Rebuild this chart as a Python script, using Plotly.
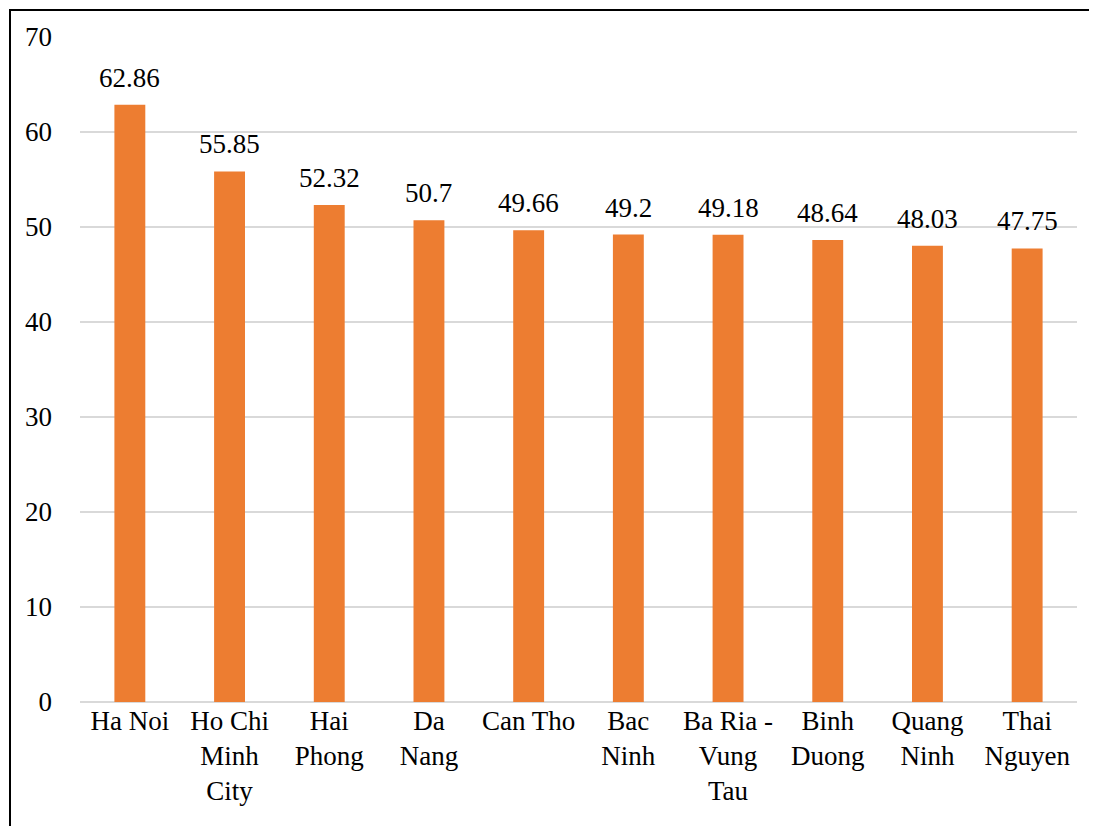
import plotly.graph_objects as go

categories = ["Ha Noi", "Ho Chi<br>Minh<br>City", "Hai<br>Phong", "Da<br>Nang", "Can Tho",
              "Bac<br>Ninh", "Ba Ria -<br>Vung<br>Tau", "Binh<br>Duong", "Quang<br>Ninh", "Thai<br>Nguyen"]
values = [62.86, 55.85, 52.32, 50.7, 49.66, 49.2, 49.18, 48.64, 48.03, 47.75]
value_labels = ["62.86", "55.85", "52.32", "50.7", "49.66", "49.2", "49.18", "48.64", "48.03", "47.75"]

W, H = 1097, 826
L, R, T, B = 72, 28, 29, 132
FONT = "Liberation Serif"

fig = go.Figure()
fig.add_trace(go.Bar(x=categories, y=values, marker=dict(color="#ED7D31", line=dict(width=0)),
                     hoverinfo="skip", xaxis="x", yaxis="y"))
# invisible helper trace for the frame axes
fig.add_trace(go.Scatter(x=[0.5], y=[0.5], mode="markers", marker=dict(opacity=0),
                         hoverinfo="skip", xaxis="x2", yaxis="y2"))

for c, v, t in zip(categories, values, value_labels):
    fig.add_annotation(x=c, y=v, xref="x", yref="y", text=t, showarrow=False,
                       yanchor="bottom", yshift=10,
                       font=dict(family=FONT, size=27, color="#000000"))

fig.update_layout(
    width=W, height=H,
    margin=dict(l=0, r=0, t=0, b=0, autoexpand=False),
    paper_bgcolor="white", plot_bgcolor="rgba(0,0,0,0)",
    bargap=0.69,
    showlegend=False,
    font=dict(family=FONT, size=27, color="#000000"),
    xaxis=dict(domain=[L / W, 1 - R / W], anchor="y",
               showgrid=False, showline=False, ticks="", tickangle=0,
               tickfont=dict(family=FONT, size=27, color="#000000")),
    yaxis=dict(domain=[B / H, 1 - T / H], anchor="x",
               range=[0, 70], dtick=10, showgrid=True, gridcolor="#D9D9D9", gridwidth=1.5,
               zeroline=True, zerolinecolor="#D9D9D9", zerolinewidth=1.5, showline=False,
               ticks="", ticklabelstandoff=27,
               tickfont=dict(family=FONT, size=27, color="#000000")),
    xaxis2=dict(domain=[2.5 / W, 1], anchor="y2", side="top", range=[0, 1],
                showline=True, linecolor="black", linewidth=2,
                showgrid=False, zeroline=False, showticklabels=False, ticks=""),
    yaxis2=dict(domain=[0, 1 - 2.5 / H], anchor="x2", side="left", range=[0, 1],
                showline=True, linecolor="black", linewidth=2,
                showgrid=False, zeroline=False, showticklabels=False, ticks=""),
)

fig.write_html("out.html")
